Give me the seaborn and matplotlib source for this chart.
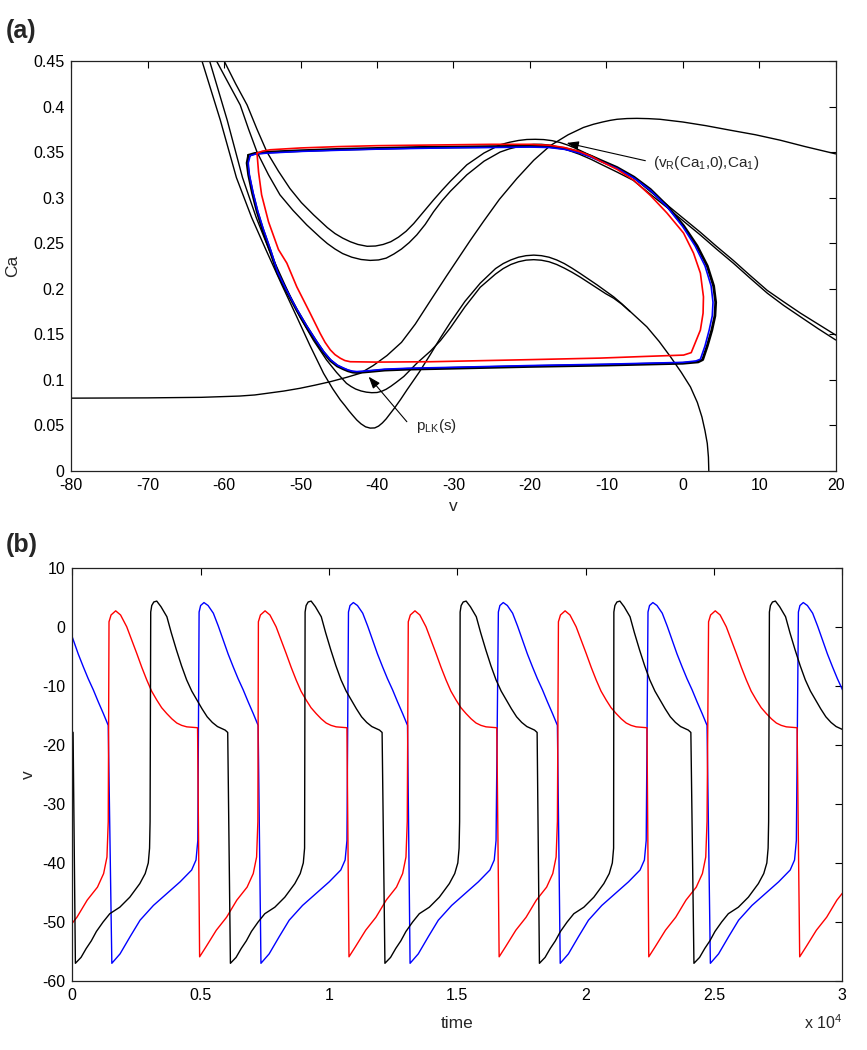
import numpy as np
import matplotlib
matplotlib.use('Agg')
import matplotlib.pyplot as plt
import seaborn as sns

# ---------------- panel (a): phase plane (v, Ca) ----------------
# Ca-nullcline
ca_null_v = [-80, -70, -63, -58, -56, -54.4, -52.2, -50.1, -48.1, -46.1, -44, -42.2, -40.5,
             -38.7, -36.8, -35, -33, -30.9, -27.8, -26.1, -24, -21.7, -19.5, -17.35, -15, -13,
             -11.7, -10.5, -9.5, -8.6, -7.3, -6, -4.5, -3, 0, 3, 6.2, 9.5, 12.75, 16, 20]
ca_null_ca = [0.0797, 0.0800, 0.0806, 0.0820, 0.0832, 0.0850, 0.0875, 0.0905, 0.0940, 0.0978,
              0.1025, 0.1070, 0.1155, 0.1265, 0.1410, 0.1610, 0.1870, 0.2140, 0.2530, 0.2735,
              0.2980, 0.3210, 0.3410, 0.3570, 0.3690, 0.3770, 0.3805, 0.3830, 0.3848, 0.3860,
              0.3868, 0.3870, 0.3867, 0.3860, 0.3830, 0.3790, 0.3740, 0.3690, 0.3630, 0.3560,
              0.3480]

# lower v-nullclines (deep knee / shallow knee)
low1_v = [-62.9, -60.5, -58.4, -56.4, -54.5, -52.5, -50.5, -48.8, -47.0, -45.8, -44.8, -44.2,
          -43.7, -43.2, -42.65, -42.1, -41.5, -40.9, -40.3, -39.8, -39.3, -38.8, -38.3, -37.7,
          -36.9, -36.1, -34.5, -33.0, -31.7, -30.4, -28.5, -26.5, -24.5, -23.5, -22.5, -21.5,
          -20.5, -19.5, -18.5, -17.5, -16.5, -15.5, -14.5, -13.4, -11.2, -9.05, -8.0, -6.9,
          -5.8, -4.7, -3.1, -1.6, -0.2, 1.0, 1.9, 2.5, 2.9, 3.2, 3.35, 3.4]
low1_ca = [0.45, 0.385, 0.322, 0.278, 0.242, 0.205, 0.169, 0.138, 0.107, 0.090, 0.0777, 0.0715,
           0.066, 0.061, 0.0557, 0.0515, 0.0482, 0.0468, 0.047, 0.049, 0.0525, 0.057, 0.0625,
           0.069, 0.0785, 0.0886, 0.108, 0.128, 0.146, 0.163, 0.186, 0.206, 0.222, 0.2275,
           0.2315, 0.2345, 0.2362, 0.2368, 0.2362, 0.2345, 0.2315, 0.2275, 0.2225, 0.2165,
           0.204, 0.191, 0.1835, 0.175, 0.1665, 0.158, 0.142, 0.125, 0.108, 0.092, 0.075, 0.059,
           0.044, 0.030, 0.015, 0.0]

low2_v = [-61.9, -59.6, -57.6, -55.8, -54.1, -52.1, -50.1, -48.3, -46.6, -45.3, -44.0, -43.4,
          -42.8, -42.1, -41.4, -40.7, -40.0, -39.4, -38.8, -38.2, -37.5, -36.5, -34.8, -33.0,
          -31.7, -30.4, -28.5, -26.5, -24.5, -23.5, -22.5, -21.5, -20.5, -19.5, -18.5, -17.5,
          -16.5, -15.5, -14.5, -13.4, -12.3, -11.2, -10.1, -9.05, -8.0, -6.9]
low2_ca = [0.45, 0.385, 0.322, 0.278, 0.242, 0.205, 0.169, 0.143, 0.1216, 0.108, 0.096, 0.0925,
           0.0897, 0.0876, 0.0863, 0.0857, 0.0859, 0.0872, 0.0895, 0.0927, 0.097, 0.1035,
           0.118, 0.1315, 0.143, 0.157, 0.180, 0.2015, 0.216, 0.222, 0.2265, 0.2295, 0.2313,
           0.2318, 0.2312, 0.2295, 0.2265, 0.2225, 0.218, 0.2125, 0.2065, 0.2005, 0.1945,
           0.1895, 0.1830, 0.1748]

# upper v-nullclines
up1_v = [-60.0, -58.5, -57.0, -55.7, -54.4, -52.9, -51.4, -49.9, -48.3, -46.5, -45.5, -44.5,
         -43.5, -42.5, -41.3, -40.2, -39.2, -38.2, -37.2, -36.2, -35.2, -34.0, -32.6, -31.5,
         -30.4, -28.25, -26, -23.9, -22.7, -21.5, -20.4, -19.3, -18.2, -17.1, -16.05, -15,
         -14, -13, -11.9, -10.8, -8.6, -6.5, -4.3, -2.04, 0.1, 2.28, 4.4, 6.6, 8.8, 11.05,
         13.2, 15.4, 17.7, 20]
up1_ca = [0.45, 0.425, 0.4017, 0.375, 0.350, 0.329, 0.310, 0.2945, 0.281, 0.267, 0.2605,
          0.2555, 0.2515, 0.2485, 0.2465, 0.2468, 0.2485, 0.2515, 0.2565, 0.263, 0.2715,
          0.2835, 0.2975, 0.308, 0.318, 0.336, 0.349, 0.358, 0.3607, 0.3627, 0.3638, 0.364,
          0.3637, 0.3625, 0.3605, 0.3575, 0.354, 0.350, 0.3455, 0.341, 0.332, 0.3224, 0.307,
          0.2918, 0.277, 0.262, 0.2465, 0.231, 0.2145, 0.198, 0.1855, 0.173, 0.161, 0.149]

up2_v = [-61.0, -59.4, -57.9, -56.8, -55.7, -54.2, -52.7, -51.0, -49.2, -47.4, -46.5, -45.5,
         -44.5, -43.3, -42.1, -40.9, -39.8, -38.8, -37.8, -36.8, -35.8, -34.8, -33.7, -32.6,
         -31.5, -30.4, -28.25, -26, -23.9, -22.7, -21.5, -20.5, -19.5, -18.5, -17.5, -16.5,
         -15.5, -14.5, -13.5, -12, -10.8, -8.6, -6.5, -4.3, -2.04, 0.1, 2.28, 4.4, 6.6, 8.8,
         11.05, 13.2, 15.4, 17.7, 20]
up2_ca = [0.45, 0.425, 0.4017, 0.375, 0.350, 0.325, 0.303, 0.286, 0.270, 0.256, 0.2495,
          0.2435, 0.2385, 0.2345, 0.232, 0.231, 0.2315, 0.2335, 0.238, 0.2435, 0.2505, 0.259,
          0.2705, 0.2845, 0.2965, 0.307, 0.325, 0.340, 0.350, 0.3535, 0.356, 0.3577, 0.3585,
          0.3585, 0.3577, 0.356, 0.3535, 0.3505, 0.3475, 0.342, 0.337, 0.328, 0.319, 0.304,
          0.289, 0.274, 0.259, 0.2435, 0.228, 0.2115, 0.195, 0.1815, 0.169, 0.156, 0.1436]

# periodic orbits
orb_black_v = [-56.8, -56.0, -54, -50, -45, -40, -35, -30, -25, -20, -17.5, -15.5, -13.5, -12,
               -10.8, -8.6, -6.4, -4.25, -2.07, 0.1, 1.86, 3.2, 4.03, 4.3, 4.2, 3.8, 3.2, 2.6,
               2.0, 0, -2.5, -10, -20, -30.4, -36, -39, -40.9, -42.0, -42.65, -43.2, -43.8,
               -44.4, -45.2, -46.1, -47.0, -47.9, -49.2, -50.5, -52.0, -53.0, -54.0, -55.0,
               -55.7, -56.3, -56.8, -57.0, -56.8]
orb_black_ca = [0.3465, 0.3485, 0.350, 0.3515, 0.353, 0.354, 0.355, 0.3555, 0.356, 0.3565,
                0.356, 0.354, 0.350, 0.3455, 0.341, 0.333, 0.3225, 0.309, 0.291, 0.269, 0.247,
                0.225, 0.203, 0.185, 0.170, 0.1545, 0.137, 0.122, 0.1195, 0.118, 0.1175, 0.116,
                0.1145, 0.1125, 0.1115, 0.1105, 0.109, 0.1082, 0.1079, 0.1083, 0.1097, 0.1118,
                0.115, 0.121, 0.130, 0.141, 0.158, 0.1765, 0.200, 0.217, 0.242, 0.266, 0.285,
                0.305, 0.325, 0.338, 0.3465]

orb_blue_v = [-56.6, -55.8, -54, -50, -45, -40, -35, -30, -25, -20, -17.5, -15.5, -13.5, -12,
              -10.8, -8.6, -6.4, -4.25, -2.07, 0.0, 1.6, 2.9, 3.7, 3.95, 3.85, 3.45, 2.9, 2.3,
              1.7, 0, -2.5, -10, -20, -30.4, -36, -39, -40.9, -42.0, -42.65, -43.2, -43.8,
              -44.4, -45.2, -46.1, -47.0, -47.9, -49.2, -50.5, -52.0, -53.0, -53.9, -54.9,
              -55.6, -56.2, -56.7, -56.85, -56.6]
orb_blue_ca = [0.346, 0.348, 0.349, 0.3507, 0.352, 0.3532, 0.354, 0.3547, 0.355, 0.3555,
               0.355, 0.353, 0.349, 0.3445, 0.340, 0.332, 0.3215, 0.308, 0.290, 0.268, 0.247,
               0.225, 0.203, 0.185, 0.170, 0.1545, 0.137, 0.1225, 0.1205, 0.119, 0.1185, 0.117,
               0.1155, 0.1135, 0.1125, 0.1115, 0.110, 0.1092, 0.1089, 0.1093, 0.1107, 0.1128,
               0.116, 0.122, 0.131, 0.142, 0.159, 0.1775, 0.201, 0.218, 0.242, 0.266, 0.285,
               0.305, 0.325, 0.338, 0.346]

orb_red_v = [-55.7, -55.0, -54, -50, -45, -40, -30, -25, -20, -17.5, -15.5, -13.5, -12, -10.8,
             -8.6, -6.4, -4.2, -2.07, 0.1, 1.4, 2.3, 2.7, 2.65, 2.3, 1.6, 1.1, 0.1, -5, -10.8,
             -20, -33, -40, -43.5, -44.2, -44.8, -45.5, -46.1, -46.8, -47.45, -48.75, -50.5,
             -51.8, -52.9, -54.2, -55.1, -55.5, -55.7]
orb_red_ca = [0.3487, 0.351, 0.3525, 0.3545, 0.356, 0.357, 0.358, 0.3585, 0.3585, 0.3575,
              0.355, 0.3505, 0.3455, 0.340, 0.331, 0.319, 0.302, 0.283, 0.261, 0.239, 0.217,
              0.191, 0.173, 0.1545, 0.140, 0.1297, 0.127, 0.1255, 0.1237, 0.122, 0.1197,
              0.1193, 0.1197, 0.121, 0.1235, 0.1275, 0.1326, 0.141, 0.151, 0.173, 0.202, 0.228,
              0.243, 0.2735, 0.303, 0.328, 0.3487]

# annotation anchors (v, Ca)
vr_text_pos = (-3.9, 0.3385)
vr_arrow_tail = (-4.9, 0.3405)
vr_arrow_head = (-15.2, 0.360)
plk_text_pos = (-34.9, 0.0447)
plk_arrow_tail = (-36.1, 0.0538)
plk_arrow_head = (-41.1, 0.1033)

# ---------------- panel (b): v(t), time in units of 1e4 ----------------
# event times: upstroke (start of active phase) and drop (start of silent phase)
black_up = [-0.297, 0.3055, 0.907, 1.511, 2.110, 2.716]
black_down = [0.004, 0.608, 1.210, 1.812, 2.414, 3.016]
red_up = [0.143, 0.725, 1.309, 1.894, 2.479, 3.06]
red_down = [-0.092, 0.491, 1.073, 1.658, 2.241, 2.829]
blue_up = [-0.09, 0.494, 1.076, 1.660, 2.243, 2.829]
blue_down = [0.147, 0.728, 1.309, 1.894, 2.479, 3.06]

black_active_t = [0.0, 0.004, 0.012, 0.0235, 0.04, 0.063, 0.08, 0.10, 0.12, 0.14, 0.16, 0.18,
                  0.20, 0.22, 0.24, 0.26, 0.29, 0.30]
black_active_v = [2.5, 3.6, 4.2, 4.35, 3.4, 1.7, -1.0, -3.9, -6.6, -9.0, -10.9, -12.4, -13.9,
                  -15.25, -16.2, -16.9, -17.5, -17.9]
black_silent_t = [0.008, 0.03, 0.05, 0.07, 0.09, 0.116, 0.142, 0.181, 0.22, 0.259, 0.28, 0.292,
                  0.297, 0.299]
black_silent_v = [-57.0, -56.0, -54.5, -53.2, -51.6, -50.0, -48.6, -47.5, -45.8, -43.5, -41.8,
                  -40.0, -37.5, -33.0]

red_active_t = [0.0, 0.008, 0.026, 0.045, 0.069, 0.088, 0.108, 0.128, 0.147, 0.166, 0.186,
                0.205, 0.225, 0.245, 0.264, 0.283, 0.303, 0.345]
red_active_v = [0.85, 2.0, 2.7, 2.0, 0.0, -2.2, -4.5, -6.9, -9.0, -10.9, -12.4, -13.7, -14.7,
                -15.6, -16.3, -16.7, -16.95, -17.1]
red_silent_t = [0.005, 0.03, 0.07, 0.11, 0.15, 0.19, 0.214, 0.227, 0.232]
red_silent_v = [-55.9, -54.2, -51.4, -49.2, -46.3, -44.1, -41.8, -39.0, -33.0]

blue_active_t = [0.0, 0.006, 0.019, 0.035, 0.0555, 0.075, 0.094, 0.113, 0.133, 0.152, 0.172,
                 0.191, 0.211, 0.230]
blue_active_v = [2.5, 3.6, 4.1, 3.6, 2.3, 0.1, -2.25, -4.6, -6.8, -8.8, -10.7, -12.7, -14.7,
                 -16.7]
blue_silent_t = [0.007, 0.039, 0.078, 0.117, 0.169, 0.221, 0.273, 0.318, 0.335, 0.342]
blue_silent_v = [-57.0, -55.4, -52.5, -49.7, -47.2, -45.2, -43.2, -41.2, -39.5, -36.2]

time_ticks = [0, 0.5, 1, 1.5, 2, 2.5, 3]
time_ticklabels = ['0', '0.5', '1', '1.5', '2', '2.5', '3']


def build_trace(ups, downs, act_t, act_v, sil_t, sil_v):
    events = sorted([(t, 'a') for t in ups] + [(t, 's') for t in downs])
    ts, vs = [], []
    for i, (t0, kind) in enumerate(events):
        t_next = events[i + 1][0] if i + 1 < len(events) else np.inf
        offs, vals = (act_t, act_v) if kind == 'a' else (sil_t, sil_v)
        for o, v in zip(offs, vals):
            if t0 + o < t_next:
                ts.append(t0 + o)
                vs.append(v)
    return np.array(ts), np.array(vs)


sns.set_theme(style='white')
plt.rcParams['font.family'] = ['Liberation Sans', 'DejaVu Sans']
plt.rcParams['mathtext.default'] = 'regular'
plt.rcParams['axes.unicode_minus'] = False

fig = plt.figure(figsize=(8.67, 10.5), dpi=100)
ax1 = fig.add_axes([0.0822, 0.5517, 0.8817, 0.3902])
ax2 = fig.add_axes([0.0834, 0.0657, 0.8881, 0.3936])

# panel (a)
for xs, ys in [(ca_null_v, ca_null_ca), (low1_v, low1_ca), (low2_v, low2_ca),
               (up1_v, up1_ca), (up2_v, up2_ca)]:
    sns.lineplot(x=xs, y=ys, sort=False, estimator=None, color='black', linewidth=1.0, ax=ax1)
sns.lineplot(x=orb_black_v, y=orb_black_ca, sort=False, estimator=None, color='black',
             linewidth=2.0, ax=ax1)
sns.lineplot(x=orb_blue_v, y=orb_blue_ca, sort=False, estimator=None, color='#0000ff',
             linewidth=1.2, ax=ax1)
sns.lineplot(x=orb_red_v, y=orb_red_ca, sort=False, estimator=None, color='#ff0000',
             linewidth=1.2, ax=ax1)

arrow = dict(arrowstyle='-|>,head_length=0.6,head_width=0.22', color='black', lw=0.8,
             shrinkA=0, shrinkB=0, mutation_scale=12)
ax1.annotate('', xy=vr_arrow_head, xytext=vr_arrow_tail, arrowprops=arrow)
ax1.text(*vr_text_pos, r'(v$_{R}$(Ca$_{1}$,0),Ca$_{1}$)', ha='left', va='center', fontsize=11)
ax1.annotate('', xy=plk_arrow_head, xytext=plk_arrow_tail, arrowprops=arrow)
ax1.text(*plk_text_pos, r'p$_{LK}$(s)', ha='left', va='baseline', fontsize=11)

ax1.set_xlim(-80, 20)
ax1.set_ylim(0, 0.45)
ax1.set_xticks(np.arange(-80, 21, 10))
ax1.set_yticks(np.arange(0, 0.451, 0.05))
ax1.yaxis.set_major_formatter(matplotlib.ticker.FuncFormatter(lambda y, p: '%g' % round(y, 2)))
ax1.set_xlabel('v', fontsize=12.5)
ax1.set_ylabel('Ca', fontsize=12.5)
ax1.xaxis.set_label_coords(0.5, -0.07)
ax1.yaxis.set_label_coords(-0.067, 0.5)

# panel (b)
for ups, downs, at, av, st, sv, col in [
        (blue_up, blue_down, blue_active_t, blue_active_v, blue_silent_t, blue_silent_v, '#0000ff'),
        (red_up, red_down, red_active_t, red_active_v, red_silent_t, red_silent_v, '#ff0000'),
        (black_up, black_down, black_active_t, black_active_v, black_silent_t, black_silent_v, 'black')]:
    t, v = build_trace(ups, downs, at, av, st, sv)
    sns.lineplot(x=t, y=v, sort=False, estimator=None, color=col, linewidth=1.0, ax=ax2)

ax2.set_xlim(0, 3)
ax2.set_ylim(-60, 10)
ax2.set_xticks(time_ticks)
ax2.set_xticklabels(time_ticklabels)
ax2.set_yticks(np.arange(-60, 11, 10))
ax2.set_xlabel('time', fontsize=12.5)
ax2.set_ylabel('v', fontsize=12.5)
ax2.xaxis.set_label_coords(0.5, -0.085)
ax2.yaxis.set_label_coords(-0.047, 0.5)
ax2.text(1.0, -0.077, r'x 10$^{4}$', transform=ax2.transAxes, ha='right', va='top', fontsize=11.5)

for ax in (ax1, ax2):
    ax.tick_params(direction='in', top=True, right=True, length=5, width=0.8,
                   labelsize=11.5, colors='black', pad=5)
    for s in ax.spines.values():
        s.set_color('#222222')
        s.set_linewidth(0.9)
    ax.grid(False)

fig.text(0.007, 1 - 31 / 1050, '(a)', fontsize=18, fontweight='bold', va='center', ha='left')
fig.text(0.007, 1 - 545 / 1050, '(b)', fontsize=18, fontweight='bold', va='center', ha='left')

fig.savefig('out.png', dpi=100)
